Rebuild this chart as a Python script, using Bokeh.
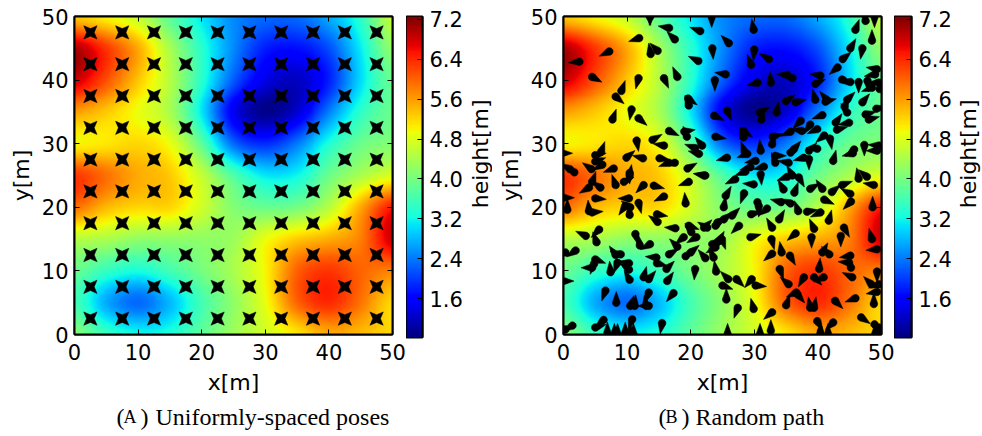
import numpy as np
from bokeh.core.properties import value
from bokeh.plotting import figure
from bokeh.layouts import row, column
from bokeh.embed import file_html
from bokeh.resources import INLINE
from bokeh.models import (FixedTicker, LinearAxis, LinearColorMapper, Range1d, PrintfTickFormatter)

# Height field at 5 m spacing, top row y=50 ... bottom row y=0
height_grid = [
    [5.3, 5.0, 4.6, 3.8, 3.1, 2.5, 2.3, 2.3, 2.7, 3.4, 4.6],
    [7.0, 6.3, 5.5, 4.4, 3.4, 2.5, 1.8, 1.7, 2.1, 3.1, 4.2],
    [6.8, 6.1, 5.3, 4.5, 3.4, 2.2, 1.4, 1.2, 1.8, 3.0, 3.9],
    [5.6, 5.3, 4.9, 4.4, 3.1, 1.5, 0.9, 1.3, 2.4, 3.4, 3.9],
    [5.0, 5.1, 5.2, 4.9, 3.8, 2.3, 1.9, 2.4, 3.3, 3.9, 4.1],
    [6.3, 5.9, 5.5, 5.3, 4.6, 3.7, 3.1, 3.2, 3.9, 4.4, 4.8],
    [5.9, 5.4, 5.2, 5.2, 4.7, 4.1, 3.9, 4.0, 4.5, 5.5, 6.5],
    [4.5, 4.4, 4.2, 4.2, 4.2, 4.3, 4.9, 5.3, 5.5, 5.8, 6.8],
    [3.9, 3.5, 3.3, 3.6, 4.0, 4.4, 5.0, 6.0, 6.3, 6.0, 5.8],
    [3.6, 2.7, 2.3, 2.8, 3.6, 4.2, 4.9, 6.0, 6.4, 5.9, 5.2],
    [4.1, 3.5, 3.2, 3.3, 3.8, 4.3, 4.7, 5.1, 5.5, 5.4, 5.2],
]
axis_ticks = [0, 10, 20, 30, 40, 50]
colorbar_ticks = [1.6, 2.4, 3.2, 4.0, 4.8, 5.6, 6.4, 7.2]
height_low = 0.82
height_high = 7.26

# Left panel: uniformly spaced poses
pose_coords = [2.5, 7.5, 12.5, 17.5, 22.5, 27.5, 32.5, 37.5, 42.5, 47.5]

# Right panel: random path, head position and the direction of the tail (degrees)
path_x = [2.5, 7.2, 4.5, 11.9, 13.4, 13.8, 16.6, 21.5, 23.3, 17.5, 13.7, 14.8, 23.4, 21.2, 11.8, 9.1, 17.9, 15.8, 23.8,
          8.2, 10.7, 7.7, 11.8, 11.5, 19.6, 19.7, 23.7, 16.6, 19.4, 19.0, 23.9, 14.0, 15.8, 20.7, 21.8, 21.3, 5.9, -0.3,
          5.0, 5.0, 6.1, 4.4, 9.9, 12.5, 15.1, 17.5, 16.6, 19.5, 22.3, 7.9, 10.4, 1.7, 1.0,
          29.9, 26.0, 30.0, 29.5, 32.3, 25.5, 32.6, 30.5, 36.0, 35.2, 39.6, 40.4, 39.6, 41.4, 41.2, 35.0, 36.5, 33.5, 25.7,
          30.9, 31.1, 40.7, 37.3, 44.2, 44.6, 44.6, 47.0, 47.5, 48.0, 49.2, 42.8, 43.0, 44.9, 41.0, 41.9, 32.9, 38.8, 39.9,
          35.7, 37.5, 32.8, 28.3, 28.3, 28.5, 28.9, 31.0, 39.9, 38.6, 37.8, 38.6, 36.2, 35.7, 42.4, 45.7, 45.5, 47.3, 49.6,
          49.3, 25.7, 30.2, 31.5, 29.4, 28.6, 33.3, 35.4, 33.3, 45.9, 47.5, 48.9, 48.5, 47.0, 45.1, 43.9, 43.1, 43.8, 45.1,
          46.4, 47.8, 49.0, 49.6, 49.3, 48.5, 49.7,
          31.0, 27.0, 29.9, 28.4, 25.5, 25.2, 26.5, 25.2, 27.6, 29.5, 30.5, 30.7, 32.0, 32.8, 33.9, 34.2, 35.7, 36.9, 38.3,
          40.4, 41.7, 41.0, 38.8, 40.7, 42.2, 43.8, 45.1, 45.2, 48.6, 48.8, 46.4, 47.7, 34.6, 36.0, 36.3, 37.0, 35.2, 44.1,
          43.6, 39.0, 39.4, 36.5, 32.7, 29.4, 24.9, 48.5, 49.3, 34.3, 32.8, 35.6, 40.7, 41.8, 45.1, 44.9, 45.2, 45.4, 34.0,
          40.2, 39.4, 40.9, 37.8, 35.4, 49.3, 48.4, 49.6, 49.3, 36.8, 36.6, 35.0, 38.8, 39.4, 42.7, 45.9, 48.8, 46.8, 39.9,
          42.4, 48.9, 49.6, 25.8, 30.9, 32.6, 40.4, 41.6, 49.0, 25.9, 27.2, 29.6, 30.2, 25.0, 25.6, 27.4, 29.9, 32.8,
          4.5, 5.8, 4.0, 8.2, 9.5, 10.4, 12.6, 14.2, 19.7, 22.1, 5.0, 15.8, 0.0, 0.6, 19.2, 4.5, 4.0, 10.3, 11.8, 9.7, 10.5,
          10.4, 14.7, 14.8, 17.6, 19.7, 20.1, 22.6, 22.1, 23.9, 24.2, 5.6, 3.5, 5.2, 11.3, 12.0, 13.6, 18.9, 20.9, 17.9,
          24.2, 23.4, 23.9, 24.4, 19.2, 20.0, 1.9, 0.3, 8.2, 9.0, 8.5, 10.3, 10.3, 5.0, 4.5, 4.8, 7.4, 10.4, 12.6, 13.4,
          14.6, 16.6, 14.7, 16.2, 22.3, 23.6, 24.0, 20.7, 16.3, 17.3, -0.1, 6.6, 8.3, 10.5, 11.2, 13.4, 13.0, 13.4, 10.8,
          15.5, 6.3, 5.0, 1.4, 0.3, 6.9, 8.0, 8.5, 9.7, 10.5, 11.0]
path_y = [42.9, 44.5, 40.5, 46.6, 50.3, 50.3, 48.2, 47.7, 50.0, 46.4, 44.1, 44.6, 45.0, 43.0, 40.3, 38.3, 40.5, 40.3, 40.0,
          37.4, 35.4, 33.8, 34.0, 30.5, 37.1, 36.0, 34.4, 32.0, 31.1, 31.9, 31.1, 30.6, 29.7, 29.3, 29.7, 28.4, 28.7, 28.5,
          28.2, 27.2, 26.7, 26.0, 27.8, 27.7, 27.7, 27.0, 27.0, 26.1, 25.0, 26.1, 25.4, 25.5, 26.0,
          47.9, 45.8, 44.8, 42.4, 43.3, 40.9, 39.6, 39.6, 40.3, 40.8, 39.4, 40.7, 36.9, 36.9, 36.6, 36.7, 36.5, 34.9, 35.2,
          34.9, 33.8, 34.5, 33.6, 35.8, 36.9, 34.9, 36.5, 34.6, 33.8, 35.5, 33.3, 32.2, 33.3, 31.3, 30.8, 31.1, 33.0, 32.3,
          31.9, 32.0, 29.9, 32.0, 31.0, 28.7, 28.4, 28.9, 29.2, 28.9, 27.8, 27.6, 29.1, 28.6, 27.3, 29.1, 28.5, 29.8, 29.7,
          28.9, 27.8, 27.3, 26.4, 26.3, 25.6, 27.0, 27.0, 28.1, 47.9, 49.3, 50.0, 46.2, 45.0, 45.0, 43.3, 42.0, 40.1, 39.7,
          39.7, 39.9, 40.9, 39.6, 41.7, 38.8, 38.6,
          25.2, 24.4, 23.6, 22.2, 21.8, 20.0, 18.7, 18.1, 17.1, 18.9, 20.8, 20.2, 19.8, 16.8, 18.1, 20.8, 20.6, 19.4, 19.3,
          19.2, 17.9, 21.2, 22.9, 22.9, 22.4, 23.5, 22.1, 20.9, 20.0, 23.5, 24.5, 24.8, 22.8, 25.0, 22.3, 24.7, 24.8, 16.8,
          15.5, 15.3, 16.6, 15.9, 15.0, 15.3, 15.0, 15.0, 13.4, 12.9, 12.7, 12.4, 12.9, 12.6, 12.4, 11.3, 10.5, 9.0, 10.3,
          10.3, 9.0, 9.0, 9.0, 7.9, 9.9, 7.9, 7.9, 6.7, 6.3, 6.6, 4.6, 4.2, 4.2, 5.3, 5.7, 4.8, 2.7, 2.1,
          1.9, 1.6, 1.1, 0.0, 0.0, 0.6, 0.2, 0.0, 0.0, 8.7, 8.7, 8.7, 7.7, 7.7, 5.5, 4.2, 4.0, 3.5,
          24.0, 23.1, 23.1, 23.5, 24.0, 25.0, 23.5, 23.4, 24.0, 25.0, 21.4, 21.7, 21.5, 19.6, 20.6, 19.2, 19.4, 21.4, 20.7, 20.2, 20.0,
          18.8, 18.9, 17.7, 16.7, 17.1, 16.1, 16.8, 16.8, 17.1, 17.6, 16.5, 15.5, 14.5, 15.8, 14.0, 14.2, 15.3, 15.3, 13.8,
          14.5, 14.2, 13.7, 14.7, 12.3, 12.9, 13.2, 12.9, 12.5, 12.6, 11.3, 11.2, 10.2, 11.8, 10.5, 11.1, 9.8, 8.6, 9.0, 8.7,
          12.1, 12.6, 11.2, 10.3, 12.0, 12.1, 9.9, 10.3, 8.4, 6.5, 8.4, 6.9, 5.0, 4.5, 4.5, 6.6, 4.5, 4.5, 2.4,
          1.8, 2.3, 1.1, 1.4, 0.8, 0.2, 0.0, 0.0, 0.2, 0.0, 0.0]
path_tail = [185, 205, -28, 198, -80, -100, 170, 160, -90, 135, 100, 135, -85, 155, -105, 70, 115, -65, -90,
             -40, -100, 70, -40, -80, -35, 110, -25, -25, 110, 10, -10, 30, 170, 160, 130, 165, 70, 0,
             10, 20, 210, 145, 40, 165, -10, 190, 200, 30, 170, 200, -90, 145, 150,
             100, 135, -95, 110, 150, 170, 95, 195, 160, 175, 25, 170, 105, 130, 15, 35, 15, 80, -65,
             30, 75, 200, 225, 70, 45, 125, 50, 15, 15, 10, 55, 15, 190, 220, -80, 15, 235, 205,
             205, 170, 75, -35, 110, 110, 200, 95, 175, 45, 195, -90, 50, 40, 75, 220, 195, -90, 175,
             180, 195, 190, 195, 195, 200, 110, 170, 0, 70, 100, -90, 90, -100, 60, 40, 220, -20, 180,
             -90, -85, 190, 180, 170, 200, -20,
             -85, 205, 175, -110, 60, 80, 45, 40, 225, 15, -70, -90, 220, 120, 60, 165, 155, 110, 10,
             205, 75, -25, 30, 125, 40, 20, 150, 225, 90, 170, 100, 140, 120, 120, 70, -60, 200, -60,
             -90, -90, 115, 220, -75, 15, -70, 105, 185, 100, 220, -60, 60, 135, 190, 175, 105, 155, -70,
             85, -45, 205, 240, 140, -90, 135, 200, 190, -50, 205, 70, 100, 80, -45, 200, 90, -35, -60,
             225, -60, -90, 90, 90, 90, 90, 90, 90, 135, -45, 230, -5, -20, 90, -110, 105, 220,
             70, 145, 210, 110, 25, 80, 225, -15, 200, 170, -5, 205, 0, 90, 95, 5, 95, 180, -75, 235, 145,
             95, -10, 145, 175, -20, 125, 150, 45, 40, 30, 225, 155, 110, -75, 100, 210, 220, 210, 135,
             220, 30, -150, 60, 40, 40, 215, 180, 125, 165, -110, 170, 145, -20, 180, -110, 95, 120, 75, 50,
             175, 30, -15, 45, 130, 115, 100, -95, 55, 230, 0, -110, 90, 70, 85, -110, 100, 180, -110,
             -100, 220, 15, 210, 210, 90, 90, 90, 90, 90, 90]

caption_parts = ["(", "A", ")", "Uniformly-spaced poses", "(", "B", ")", "Random path"]
caption_x = [116, 123, 140, 155, 658, 665, 681, 695]
caption_size = ["24px", "18px", "24px", "24px", "24px", "18px", "24px", "24px"]

FONT = "DejaVu Sans"
SERIF = "Liberation Serif"
TICK_PT = "21px"
LABEL_PT = "22px"
FRAME = 318
ROW_H = 392
CAP_H = 44


def jet_palette(n=256):
    t = np.linspace(0, 1, n)
    r = np.interp(t, [0, .35, .66, .89, 1], [0, 0, 1, 1, .5])
    g = np.interp(t, [0, .125, .375, .64, .91, 1], [0, 0, 1, 1, 0, 0])
    b = np.interp(t, [0, .11, .34, .65, 1], [.5, 1, 1, 0, 0])
    return ["#%02x%02x%02x" % (int(a * 255), int(c * 255), int(d * 255)) for a, c, d in zip(r, g, b)]


def smooth_weights(m, n):
    t = np.linspace(0, m - 1, n)
    i = np.clip(np.floor(t).astype(int), 0, m - 2)
    f = t - i
    w = np.zeros((n, m))
    coeffs = [-.5 * f**3 + f**2 - .5 * f, 1.5 * f**3 - 2.5 * f**2 + 1, -1.5 * f**3 + 2 * f**2 + .5 * f, .5 * f**3 - .5 * f**2]
    for k, c in zip(range(-1, 3), coeffs):
        np.add.at(w, (np.arange(n), np.clip(i + k, 0, m - 1)), c)
    return w


def smooth_field(grid, n=320):
    g = np.array(grid, dtype=float)[::-1]
    w = smooth_weights(g.shape[0], n)
    return w @ g @ w.T


mapper = LinearColorMapper(palette=jet_palette(), low=height_low, high=height_high)
field = smooth_field(height_grid)


def style_axis(ax, labels=True):
    ax.ticker = FixedTicker(ticks=axis_ticks)
    ax.major_tick_in = 5
    ax.major_tick_out = 0
    ax.minor_tick_line_color = None
    ax.major_tick_line_color = "black"
    ax.major_tick_line_width = 1
    ax.axis_line_color = "black"
    ax.axis_line_width = 2
    if labels:
        ax.major_label_text_font = FONT
        ax.major_label_text_font_size = TICK_PT
        ax.major_label_text_color = "black"
        ax.major_label_standoff = 6
        ax.axis_label_text_font = FONT
        ax.axis_label_text_font_size = LABEL_PT
        ax.axis_label_text_font_style = "normal"
        ax.axis_label_text_color = "black"
        ax.axis_label_standoff = 6
    else:
        ax.major_label_text_font_size = "0px"
        ax.major_label_text_color = None


def main_panel(left, right):
    p = figure(frame_width=FRAME, frame_height=FRAME, x_range=Range1d(0, 50), y_range=Range1d(0, 50),
               min_border_left=left, min_border_right=right, min_border_top=16, min_border_bottom=ROW_H - 16 - FRAME,
               toolbar_location=None, output_backend="svg", x_axis_label="x[m]", y_axis_label="y[m]")
    p.grid.visible = False
    p.outline_line_color = "black"
    p.outline_line_width = 2
    p.background_fill_color = None
    p.border_fill_color = None
    p.image(image=[field], x=0, y=0, dw=50, dh=50, color_mapper=mapper)
    style_axis(p.xaxis[0])
    style_axis(p.yaxis[0])
    p.xaxis[0].major_label_standoff = 9
    p.xaxis[0].axis_label_standoff = 7
    p.yaxis[0].axis_label_standoff = 5
    top = LinearAxis()
    rgt = LinearAxis()
    style_axis(top, False)
    style_axis(rgt, False)
    p.add_layout(top, "above")
    p.add_layout(rgt, "right")
    return p


def colorbar_panel(height, width, right):
    grad = np.linspace(height_low, height_high, 256).reshape(-1, 1)
    c = figure(frame_width=width, frame_height=height, x_range=Range1d(0, 1),
               y_range=Range1d(height_low, height_high), min_border_left=0, min_border_right=right,
               min_border_top=15, min_border_bottom=ROW_H - 15 - height,
               toolbar_location=None, output_backend="svg", x_axis_location=None, y_axis_location="right")
    c.grid.visible = False
    c.outline_line_color = "black"
    c.outline_line_width = 2
    c.border_fill_color = None
    c.image(image=[grad], x=0, y=height_low, dw=1, dh=height_high - height_low, color_mapper=mapper)
    ax = c.yaxis[0]
    style_axis(ax)
    ax.ticker = FixedTicker(ticks=colorbar_ticks)
    ax.formatter = PrintfTickFormatter(format="%.1f")
    ax.major_label_standoff = 7
    return c


def side_label(width, text, x):
    s = figure(width=width, height=ROW_H, x_range=Range1d(0, width), y_range=Range1d(ROW_H, 0), min_border=0,
               toolbar_location=None, output_backend="svg", x_axis_location=None, y_axis_location=None,
               margin=(0, 0, 0, -9))
    s.grid.visible = False
    s.outline_line_color = None
    s.background_fill_color = None
    s.border_fill_color = None
    s.text(x=[x], y=[172], text=[text], angle=[np.pi / 2], text_font=value(FONT), text_font_size=value(LABEL_PT),
           text_color="black", text_align="center", text_baseline="middle")
    return s


def star_patches(xs, ys, tip=1.48, waist=0.6):
    ang = np.radians(np.arange(0, 360, 45) + 45)
    rad = np.array([tip, waist] * 4)
    dx, dy = rad * np.cos(ang), rad * np.sin(ang)
    return [list(x + dx) for x in xs], [list(y + dy) for y in ys]


def drop_patches(xs, ys, tails, r=0.6, tip=1.75):
    out_x, out_y = [], []
    half = np.arccos(r / tip)
    phi = np.linspace(half, 2 * np.pi - half, 14)
    bx = np.concatenate([[tip], r * np.cos(phi)])
    by = np.concatenate([[0], r * np.sin(phi)])
    for x, y, deg in zip(xs, ys, tails):
        a = np.radians(deg)
        out_x.append(list(x + bx * np.cos(a) - by * np.sin(a)))
        out_y.append(list(y + bx * np.sin(a) + by * np.cos(a)))
    return out_x, out_y


# Panel A
pa = main_panel(74, 14)
gx, gy = np.meshgrid(pose_coords, pose_coords)
sx, sy = star_patches(gx.ravel(), gy.ravel())
pa.patches(sx, sy, fill_color="black", line_color="black", line_width=0.5)

cba = colorbar_panel(321, 16, 49)
la = side_label(30, "height[m]", 18)

# Panel B
pb = main_panel(71, 13)
dx, dy = drop_patches(path_x, path_y, path_tail)
pb.patches(dx, dy, fill_color="black", line_color="black", line_width=0.5)

cbb = colorbar_panel(321, 17, 49)
lb = side_label(31, "height[m]", 17)

# Captions under the panels
cap = figure(width=974, height=CAP_H, x_range=Range1d(0, 974), y_range=Range1d(CAP_H, 0),
             toolbar_location=None, output_backend="svg", min_border=0, x_axis_location=None, y_axis_location=None)
cap.grid.visible = False
cap.outline_line_color = None
cap.background_fill_color = None
cap.border_fill_color = None
for text, x, size in zip(caption_parts, caption_x, caption_size):
    cap.text(x=[x], y=[19], text=[text], text_font=value(SERIF), text_font_size=value(size),
             text_color="black", text_baseline="alphabetic")

layout = column(row(pa, cba, la, pb, cbb, lb, spacing=0), cap, spacing=0)
open("out.html", "w").write(file_html(layout, INLINE))
